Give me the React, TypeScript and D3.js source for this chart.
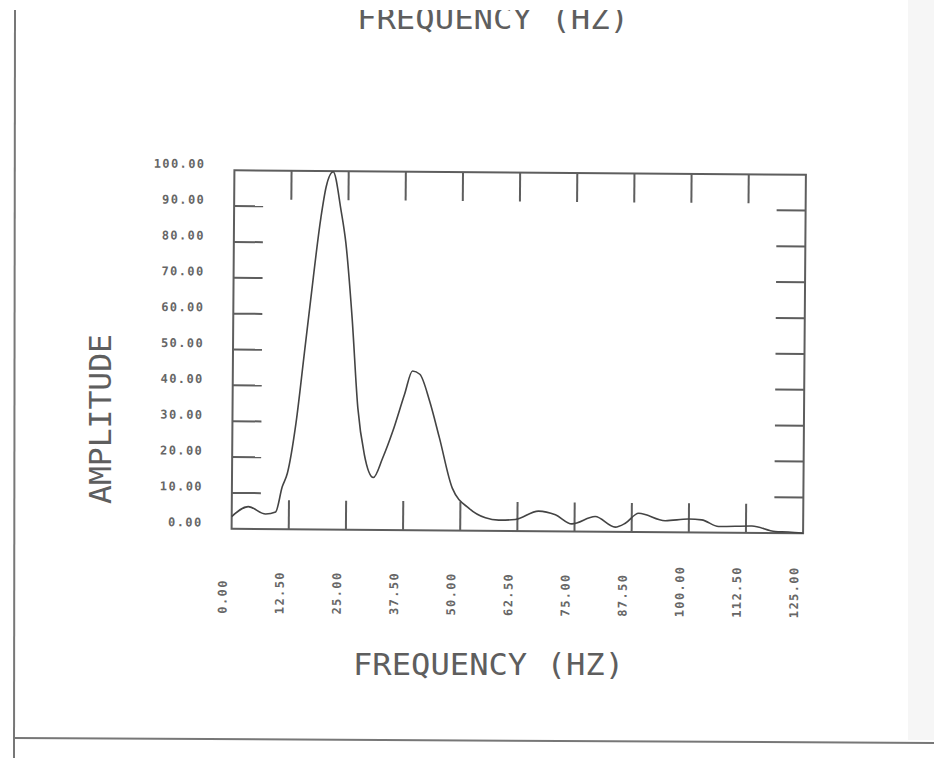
import React, { useEffect, useRef } from 'react';
import * as d3 from 'd3';

// spectrum
const freq = [0, 3.6, 7.4, 9.6, 11, 12.1, 13.9, 15.6, 16.9, 19, 20.1, 21.6, 23.4, 24.5, 26, 27.4, 28.9, 30.9, 32.9, 35.1, 37.6, 39.3, 40.9, 43.1, 45.3, 48.2, 51.9, 55.5, 58.4, 62, 67.1, 70.8, 74.4, 79.5, 83.9, 86.1, 89, 94.8, 99.9, 102.8, 106.5, 113.8, 118.9, 121.8, 125];
const amplitude = [3.4, 6.2, 4.2, 4.8, 11.8, 15.6, 29.6, 49, 64, 87, 95.6, 99.8, 89, 80, 59, 34, 21, 14.6, 20, 27.6, 37.9, 44.4, 43.5, 36, 25.8, 11.8, 6.2, 3.6, 3, 3.2, 5.6, 4.6, 2.1, 4.2, 1.3, 2.4, 5.2, 3.2, 3.7, 3.5, 1.7, 1.9, 0.4, 0.3, 0];
const xTicks = [0, 12.5, 25, 37.5, 50, 62.5, 75, 87.5, 100, 112.5, 125];
const yTicks = [0, 10, 20, 30, 40, 50, 60, 70, 80, 90, 100];

const W = 571.5, H = 358.5;
const CX = 518.75, CY = 351.75;
const ink = '#5e5e5e';
const mono = '"DejaVu Sans Mono", monospace';

export default function App() {
  const ref = useRef<SVGSVGElement>(null);

  useEffect(() => {
    const svg = d3.select(ref.current);
    svg.selectAll('*').remove();

    svg.append('rect').attr('width', 934).attr('height', 758).attr('fill', '#fff');
    svg.append('rect').attr('x', 908).attr('y', 0).attr('width', 26).attr('height', 740).attr('fill', '#f6f6f6');

    // page frame
    svg.append('line').attr('x1', 15).attr('y1', 10).attr('x2', 14).attr('y2', 758)
      .attr('stroke', '#777').attr('stroke-width', 2);
    svg.append('line').attr('x1', 14).attr('y1', 738).attr('x2', 934).attr('y2', 743)
      .attr('stroke', '#777').attr('stroke-width', 2);

    // title at the top of the page, cut off by the scan
    svg.append('clipPath').attr('id', 'topclip')
      .append('rect').attr('x', 0).attr('y', 10).attr('width', 934).attr('height', 100);
    svg.append('text')
      .attr('clip-path', 'url(#topclip)')
      .attr('x', 357).attr('y', 29)
      .attr('textLength', 272).attr('lengthAdjust', 'spacingAndGlyphs')
      .attr('font-family', mono).attr('font-size', 31).attr('fill', ink)
      .text('FREQUENCY (HZ)');

    svg.append('text')
      .attr('x', 353).attr('y', 675)
      .attr('textLength', 271).attr('lengthAdjust', 'spacingAndGlyphs')
      .attr('font-family', mono).attr('font-size', 31).attr('fill', ink)
      .text('FREQUENCY (HZ)');

    svg.append('text')
      .attr('transform', 'translate(111,419) rotate(-90)')
      .attr('text-anchor', 'middle')
      .attr('textLength', 170).attr('lengthAdjust', 'spacingAndGlyphs')
      .attr('font-family', mono).attr('font-size', 31).attr('fill', ink)
      .text('AMPLITUDE');

    const x = d3.scaleLinear().domain([0, 125]).range([0, W]);
    const y = d3.scaleLinear().domain([0, 100]).range([H, 0]);

    // scanned page is slightly tilted
    const g = svg.append('g')
      .attr('transform', `translate(${CX},${CY}) rotate(0.45) translate(${-W / 2},${-H / 2})`);

    g.append('rect').attr('width', W).attr('height', H)
      .attr('fill', 'none').attr('stroke', ink).attr('stroke-width', 2);

    const tl = 29;
    const inner = (arr: number[]) => arr.slice(1, -1);
    inner(xTicks).forEach(t => {
      g.append('line').attr('x1', x(t)).attr('x2', x(t)).attr('y1', 0).attr('y2', tl)
        .attr('stroke', ink).attr('stroke-width', 2);
      g.append('line').attr('x1', x(t)).attr('x2', x(t)).attr('y1', H).attr('y2', H - tl)
        .attr('stroke', ink).attr('stroke-width', 2);
    });
    inner(yTicks).forEach(t => {
      g.append('line').attr('x1', 0).attr('x2', tl).attr('y1', y(t)).attr('y2', y(t))
        .attr('stroke', ink).attr('stroke-width', 2);
      g.append('line').attr('x1', W).attr('x2', W - tl).attr('y1', y(t)).attr('y2', y(t))
        .attr('stroke', ink).attr('stroke-width', 2);
    });

    const fmt = d3.format('.2f');
    g.selectAll('.ylab').data(yTicks).enter().append('text')
      .attr('class', 'ylab')
      .attr('x', -29).attr('y', d => y(d) - 2)
      .attr('text-anchor', 'end')
      .attr('font-family', mono).attr('font-size', 12).attr('font-weight', 'bold')
      .attr('letter-spacing', 1.4)
      .attr('fill', '#666')
      .text(d => fmt(d));

    g.selectAll('.xlab').data(xTicks).enter().append('text')
      .attr('class', 'xlab')
      .attr('transform', d => `translate(${x(d) - 4.5},${H + 85}) rotate(-90)`)
      .attr('font-family', mono).attr('font-size', 12).attr('font-weight', 'bold')
      .attr('letter-spacing', 1.4)
      .attr('fill', '#666')
      .text(d => fmt(d));

    const line = d3.line<number>()
      .x((_, i) => x(freq[i]))
      .y(d => y(d))
      .curve(d3.curveMonotoneX);

    g.append('path').datum(amplitude)
      .attr('d', line)
      .attr('fill', 'none').attr('stroke', '#444').attr('stroke-width', 1.6);
  }, []);

  return (
    <svg ref={ref} width={934} height={758} style={{ position: 'absolute', left: 0, top: 0 }} />
  );
}
